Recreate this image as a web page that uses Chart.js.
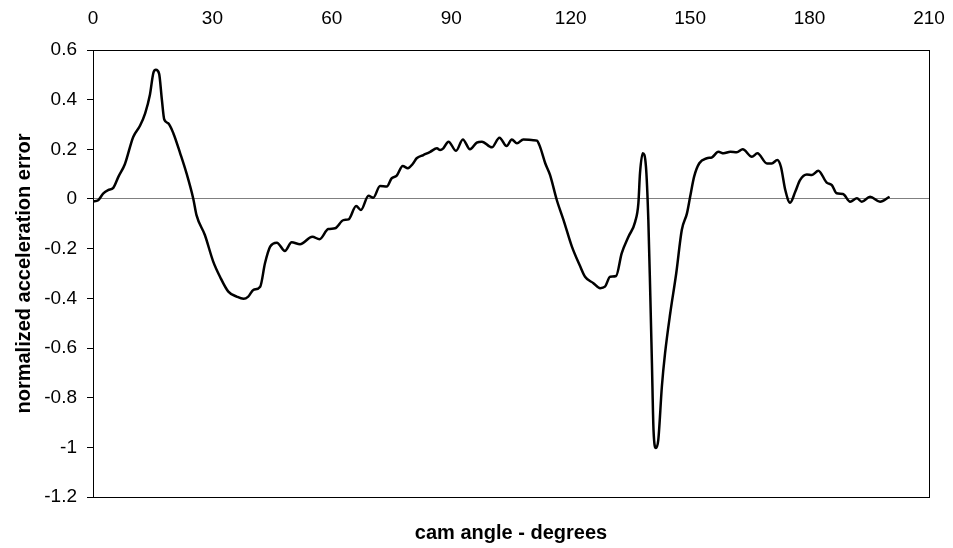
<!DOCTYPE html>
<html>
<head>
<meta charset="utf-8">
<script src="https://cdn.jsdelivr.net/npm/chart.js@4/dist/chart.umd.min.js"></script>
<style>
  body { margin: 0; background: #fff; }
  #wrap { width: 953px; height: 548px; }
</style>
</head>
<body>
<div id="wrap"><canvas id="chart" width="953" height="548"></canvas></div>
<script>
// cam angle (degrees)
var angles = [0, 1.3, 2.6, 3.8, 5.1, 6.4, 8.0, 10.1, 11.8, 13.1, 14.3, 15.2, 15.8, 16.6, 17.3, 17.9, 18.9, 20.2, 21.9, 23.5,
  25.2, 26.0, 28.1, 30.2, 31.9, 34.0, 36.1, 37.8, 39.0, 40.3, 42.0, 43.2, 44.5, 46.2, 48.2, 49.9, 52.0, 55.1, 56.9, 59.1,
  60.8, 62.9, 64.2, 66.1, 67.3, 69.2, 70.4, 72.1, 73.8, 75.0, 76.3, 77.8, 79.1, 80.3, 81.3, 83.0, 84.7, 86.4, 87.2, 88.0,
  89.3, 91.2, 92.9, 94.7, 96.4, 97.7, 100.2, 102.1, 103.9, 105.2, 106.5, 108.1, 110.6, 111.5, 112.3, 113.6, 114.8, 116.5, 118.2, 120.3,
  122.4, 123.6, 125.7, 127.4, 128.6, 129.9, 131.4, 132.8, 134.5, 136.2, 137.0, 137.4, 138.1, 138.9, 139.5, 140.0, 140.4, 140.8, 141.4, 142.0,
  142.9, 143.7, 145.0, 146.5, 147.9, 149.2, 150.0, 151.0, 152.3, 154.2, 155.5, 157.1, 158.4, 160.1, 161.7, 163.2, 165.5, 166.9, 169.3, 170.5,
  171.9, 172.8, 173.9, 175.1, 176.4, 177.6, 179.3, 180.6, 182.2, 184.3, 185.6, 186.8, 188.4, 190.2, 191.9, 193.1, 195.2, 197.7, 200.1];

// normalized acceleration error at each angle
var errors = [-0.01, -0.005, 0.023, 0.036, 0.045, 0.09, 0.14, 0.25, 0.295, 0.345, 0.42, 0.51, 0.52, 0.505, 0.40, 0.32, 0.305, 0.264, 0.184, 0.103,
  0.0, -0.065, -0.145, -0.252, -0.313, -0.373, -0.393, -0.402, -0.393, -0.366, -0.353, -0.259, -0.192, -0.176, -0.209, -0.174, -0.182, -0.152, -0.162, -0.121,
  -0.118, -0.085, -0.082, -0.028, -0.044, 0.013, 0.005, 0.052, 0.05, 0.083, 0.094, 0.133, 0.124, 0.141, 0.164, 0.177, 0.19, 0.204, 0.197, 0.204,
  0.231, 0.194, 0.24, 0.2, 0.227, 0.231, 0.208, 0.247, 0.213, 0.24, 0.224, 0.24, 0.237, 0.235, 0.21, 0.144, 0.097, -0.004, -0.085, -0.192,
  -0.272, -0.313, -0.339, -0.359, -0.353, -0.313, -0.31, -0.219, -0.152, -0.091, -0.017, 0.103, 0.184, 0.13, -0.085, -0.393, -0.661, -0.93, -1.003, -0.97,
  -0.755, -0.621, -0.46, -0.3, -0.125, -0.058, 0.009, 0.09, 0.144, 0.164, 0.168, 0.19, 0.184, 0.19, 0.188, 0.2, 0.17, 0.184, 0.143, 0.143,
  0.157, 0.13, 0.036, -0.015, 0.029, 0.076, 0.099, 0.097, 0.114, 0.066, 0.056, 0.023, 0.02, -0.011, 0.003, -0.011, 0.009, -0.011, 0.009];

// axis ranges / tick steps
var xTicks = [0, 30, 60, 90, 120, 150, 180, 210];
var yTicks = [-1.2, -1, -0.8, -0.6, -0.4, -0.2, 0, 0.2, 0.4, 0.6];

var points = angles.map(function (a, i) { return { x: a, y: errors[i] }; });

// box around the plot area
var frame = {
  id: 'frame',
  afterDatasetsDraw: function (chart) {
    var a = chart.chartArea, ctx = chart.ctx;
    ctx.save();
    ctx.strokeStyle = '#000';
    ctx.lineWidth = 1;
    ctx.strokeRect(Math.round(a.left) + 0.5, Math.round(a.top) + 0.5,
      Math.round(a.right - a.left), Math.round(a.bottom - a.top));
    ctx.restore();
  }
};

Chart.defaults.font.family = 'Arial, "Liberation Sans", sans-serif';
Chart.defaults.color = '#000';

new Chart(document.getElementById('chart'), {
  type: 'line',
  data: {
    datasets: [{
      data: points,
      borderColor: '#000',
      borderWidth: 2.5,
      pointRadius: 0,
      fill: false,
      cubicInterpolationMode: 'monotone'
    }]
  },
  options: {
    responsive: false,
    animation: false,
    layout: { padding: { left: 0, right: 24, top: 0, bottom: 0 } },
    plugins: {
      legend: { display: false },
      tooltip: { enabled: false },
      title: {
        display: true,
        position: 'bottom',
        fullSize: false,
        text: 'cam angle - degrees',
        font: { size: 20, weight: 'bold' },
        padding: { top: 24, bottom: 3 }
      }
    },
    scales: {
      x: {
        type: 'linear',
        position: 'top',
        min: xTicks[0],
        max: xTicks[xTicks.length - 1],
        // no tick marks on top; tickLength only spaces the labels
        grid: { display: false, drawTicks: true, tickLength: 20 },
        border: { display: false },
        ticks: { stepSize: 30, padding: 0, font: { size: 19 }, maxRotation: 0 },
        afterFit: function (s) { s.height = 50; }
      },
      y: {
        min: yTicks[0],
        max: yTicks[yTicks.length - 1],
        grid: {
          drawOnChartArea: true,
          tickLength: 6,
          tickColor: '#000',
          color: function (c) { return c.tick && c.tick.value === 0 ? '#808080' : 'rgba(0,0,0,0)'; }
        },
        border: { display: false },
        ticks: {
          stepSize: 0.2,
          padding: 10,
          font: { size: 19 },
          callback: function (v) { return String(Math.round(v * 10) / 10); }
        },
        title: {
          display: true,
          text: 'normalized acceleration error',
          font: { size: 20, weight: 'bold' },
          padding: { top: 12, bottom: 0 }
        },
        afterFit: function (s) { s.width = 93; }
      }
    }
  },
  plugins: [frame]
});
</script>
</body>
</html>
